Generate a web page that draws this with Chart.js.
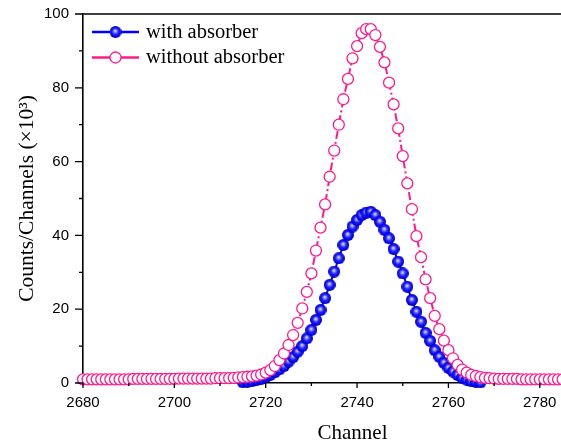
<!DOCTYPE html>
<html>
<head>
<meta charset="utf-8">
<script src="https://cdn.jsdelivr.net/npm/chart.js@4.4.0/dist/chart.umd.min.js"></script>
<style>
  html, body { margin: 0; padding: 0; background: #fff; overflow: hidden; width: 561px; height: 446px; }
  #wrap { position: relative; width: 622px; height: 446px; }
</style>
</head>
<body>
<div id="wrap"><canvas id="chart" width="622" height="446"></canvas></div>
<script>
// without absorber (pink open circles), one point per channel
const channelsWithout = [
  2680, 2681, 2682, 2683, 2684, 2685, 2686, 2687, 2688, 2689,
  2690, 2691, 2692, 2693, 2694, 2695, 2696, 2697, 2698, 2699,
  2700, 2701, 2702, 2703, 2704, 2705, 2706, 2707, 2708, 2709,
  2710, 2711, 2712, 2713, 2714, 2715, 2716, 2717, 2718, 2719,
  2720, 2721, 2722, 2723, 2724, 2725, 2726, 2727, 2728, 2729,
  2730, 2731, 2732, 2733, 2734, 2735, 2736, 2737, 2738, 2739,
  2740, 2741, 2742, 2743, 2744, 2745, 2746, 2747, 2748, 2749,
  2750, 2751, 2752, 2753, 2754, 2755, 2756, 2757, 2758, 2759,
  2760, 2761, 2762, 2763, 2764, 2765, 2766, 2767, 2768, 2769,
  2770, 2771, 2772, 2773, 2774, 2775, 2776, 2777, 2778, 2779,
  2780, 2781, 2782, 2783, 2784, 2785, 2786
];
const countsWithout = [
  1.0, 1.0, 1.0, 1.0, 1.0, 1.0, 1.0, 1.0, 1.0, 1.0,
  1.0, 1.1, 1.1, 1.1, 1.1, 1.1, 1.1, 1.1, 1.1, 1.1,
  1.1, 1.2, 1.2, 1.2, 1.2, 1.2, 1.2, 1.2, 1.2, 1.3,
  1.3, 1.3, 1.3, 1.4, 1.5, 1.6, 1.7, 1.8, 2.0, 2.3,
  2.8, 3.5, 4.6, 6.2, 8.0, 10.3, 13.0, 16.3, 20.2, 24.7,
  29.7, 35.9, 42.1, 48.4, 55.9, 63.0, 70.0, 76.9, 82.4, 88.0,
  91.3, 94.8, 95.9, 95.9, 94.3, 91.1, 86.9, 81.4, 75.5, 69.0,
  61.5, 54.1, 47.1, 39.8, 34.1, 28.1, 23.0, 18.2, 14.6, 11.5,
  8.9, 6.7, 4.9, 3.6, 2.8, 2.2, 1.9, 1.6, 1.4, 1.3,
  1.2, 1.1, 1.1, 1.1, 1.1, 1.1, 1.0, 1.0, 1.0, 1.0,
  1.0, 1.0, 1.0, 1.0, 1.0, 1.0, 1.0
];

// with absorber (blue balls), visible part of the peak
const channelsWith = [
  2715, 2716, 2717, 2718, 2719, 2720, 2721, 2722, 2723, 2724,
  2725, 2726, 2727, 2728, 2729, 2730, 2731, 2732, 2733, 2734,
  2735, 2736, 2737, 2738, 2739, 2740, 2741, 2742, 2743, 2744,
  2745, 2746, 2747, 2748, 2749, 2750, 2751, 2752, 2753, 2754,
  2755, 2756, 2757, 2758, 2759, 2760, 2761, 2762, 2763, 2764,
  2765, 2766, 2767
];
const countsWith = [
  0.2, 0.35, 0.5, 0.8, 1.1, 1.6, 2.2, 2.9, 3.7, 4.6,
  5.8, 7.0, 8.5, 10.0, 12.1, 14.4, 17.1, 19.8, 23.0, 26.6,
  30.2, 33.8, 37.4, 40.1, 42.4, 44.2, 45.5, 46.2, 46.4, 45.5,
  43.7, 41.5, 39.2, 36.3, 32.9, 29.7, 26.1, 22.5, 19.3, 16.6,
  13.6, 11.4, 8.9, 7.1, 5.5, 4.1, 3.1, 2.2, 1.4, 0.9,
  0.5, 0.3, 0.15
];

const seriesNames = ['with absorber', 'without absorber'];
const xTickStep = 20;
const yTickStep = 20;

const BLUE = '#0000ff';
const PINK = '#ff1a8c';

// shaded ball used as the blue marker
function makeBall(r) {
  const c = document.createElement('canvas');
  c.width = c.height = Math.ceil(r * 2);
  const g = c.getContext('2d');
  const grd = g.createRadialGradient(r * 0.95, r * 0.8, 0, r, r, r);
  grd.addColorStop(0, '#ffffff');
  grd.addColorStop(0.2, '#a0a0ff');
  grd.addColorStop(0.5, '#2828ff');
  grd.addColorStop(0.85, '#0000e8');
  grd.addColorStop(1, '#0000b4');
  g.fillStyle = grd;
  g.beginPath();
  g.arc(r, r, r, 0, Math.PI * 2);
  g.fill();
  return c;
}
const ball = makeBall(6);

function toPoints(xs, ys) {
  return xs.map((x, i) => ({ x: x, y: ys[i] }));
}

// minor/major ticks, top frame line
const frameTicks = {
  id: 'frameTicks',
  afterDraw(chart) {
    const { ctx, chartArea, scales } = chart;
    const xs = scales.x, ys = scales.y;
    ctx.save();
    ctx.strokeStyle = '#000';
    ctx.lineWidth = 1.3;
    ctx.beginPath();
    for (let v = xs.min; v <= xs.max; v += 10) {
      const px = xs.getPixelForValue(v);
      const len = (v % 20 === 0) ? 5 : 3;
      ctx.moveTo(px, chartArea.bottom);
      ctx.lineTo(px, chartArea.bottom + len);
    }
    for (let v = ys.min; v <= ys.max; v += 10) {
      const py = ys.getPixelForValue(v);
      const len = (v % 20 === 0) ? 8 : 4;
      ctx.moveTo(chartArea.left, py);
      ctx.lineTo(chartArea.left - len, py);
    }
    ctx.stroke();
    ctx.lineWidth = 1.6;
    ctx.beginPath();
    ctx.moveTo(chartArea.left, chartArea.top);
    ctx.lineTo(chartArea.right, chartArea.top);
    ctx.stroke();
    ctx.restore();
  }
};

// legend drawn as line-marker-line like the original
const lineLegend = {
  id: 'lineLegend',
  afterDraw(chart) {
    const { ctx, chartArea } = chart;
    const x0 = chartArea.left + 9;
    const rows = [chartArea.top + 18, chartArea.top + 43.5];
    ctx.save();
    chart.data.datasets.forEach((ds, i) => {
      const y = rows[i];
      ctx.strokeStyle = ds.borderColor;
      ctx.lineWidth = 2.5;
      ctx.beginPath();
      ctx.moveTo(x0, y); ctx.lineTo(x0 + 18, y);
      ctx.moveTo(x0 + 29, y); ctx.lineTo(x0 + 47, y);
      ctx.stroke();
      const mx = x0 + 23.5;
      if (ds.pointStyle === ball) {
        ctx.drawImage(ball, mx - ball.width / 2, y - ball.height / 2);
      } else {
        ctx.fillStyle = '#fff';
        ctx.strokeStyle = ds.pointBorderColor;
        ctx.lineWidth = 1.3;
        ctx.beginPath();
        ctx.arc(mx, y, 5.5, 0, Math.PI * 2);
        ctx.fill();
        ctx.stroke();
      }
      ctx.fillStyle = '#000';
      ctx.font = '20.5px "Liberation Serif", "Times New Roman", serif';
      ctx.textBaseline = 'alphabetic';
      ctx.fillText(ds.label, x0 + 54, y + 5.5);
    });
    ctx.restore();
  }
};

// fixed axis boxes: no extra padding from tick label overflow
function fixBox(w, h) {
  return (s) => {
    if (w !== null) s.width = w;
    if (h !== null) s.height = h;
    s.paddingTop = 0; s.paddingBottom = 0;
    s.paddingLeft = 0; s.paddingRight = 0;
  };
}

const ctx = document.getElementById('chart').getContext('2d');
new Chart(ctx, {
  type: 'line',
  data: {
    datasets: [
      {
        label: seriesNames[0],
        data: toPoints(channelsWith, countsWith),
        borderColor: BLUE,
        borderWidth: 2,
        pointStyle: ball,
        pointRadius: 6,
        order: 1,
        clip: false
      },
      {
        label: seriesNames[1],
        data: toPoints(channelsWithout, countsWithout),
        borderColor: PINK,
        borderWidth: 2,
        borderDash: [8, 3, 2, 3],
        pointStyle: 'circle',
        pointRadius: 5.5,
        pointBorderWidth: 1.3,
        pointBorderColor: PINK,
        pointBackgroundColor: '#fff',
        order: 0,
        clip: false
      }
    ]
  },
  options: {
    responsive: false,
    animation: false,
    events: [],
    layout: { autoPadding: false, padding: { top: 14, right: 0, left: 0, bottom: 0 } },
    plugins: {
      legend: { display: false },
      tooltip: { enabled: false }
    },
    scales: {
      x: {
        type: 'linear',
        min: 2680,
        max: 2798,
        afterFit: fixBox(null, 63),
        grid: { display: false, drawTicks: false },
        border: { display: true, color: '#000', width: 1.6 },
        ticks: {
          stepSize: xTickStep,
          includeBounds: false,
          padding: 11,
          color: '#000',
          maxRotation: 0,
          callback: (v) => String(v),
          font: { family: '"Liberation Sans", Arial, sans-serif', size: 15 }
        },
        title: {
          display: true,
          text: 'Channel',
          color: '#000',
          padding: { top: 0, bottom: 0 },
          font: { family: '"Liberation Serif", "Times New Roman", serif', size: 21 }
        }
      },
      y: {
        type: 'linear',
        min: 0,
        max: 100,
        afterFit: fixBox(83, null),
        grid: { display: false, drawTicks: false },
        border: { display: true, color: '#000', width: 1.6 },
        ticks: {
          stepSize: yTickStep,
          padding: 14,
          color: '#000',
          font: { family: '"Liberation Sans", Arial, sans-serif', size: 15 }
        },
        title: {
          display: true,
          text: 'Counts/Channels (×10³)',
          color: '#000',
          padding: { top: 14, bottom: 0 },
          font: { family: '"Liberation Serif", "Times New Roman", serif', size: 21.5 }
        }
      }
    }
  },
  plugins: [frameTicks, lineLegend]
});
</script>
</body>
</html>
